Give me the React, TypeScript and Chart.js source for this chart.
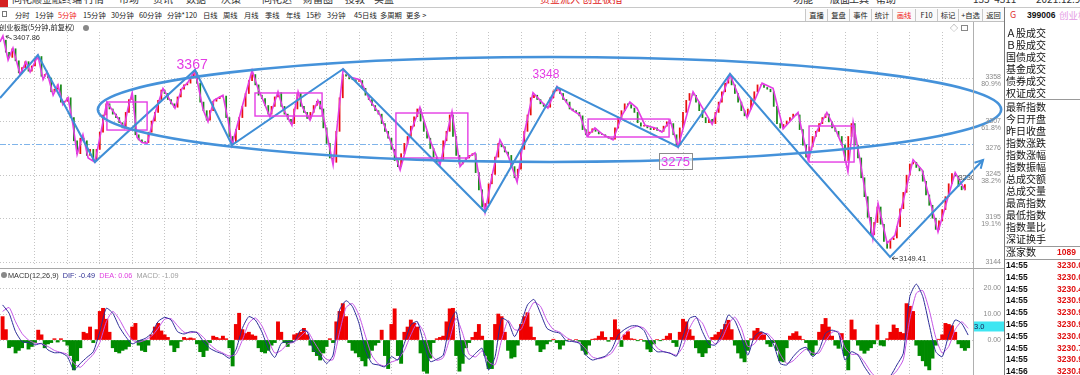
import React, { useEffect, useRef } from "react";
import { Chart, registerables } from "chart.js";

Chart.register(...registerables);

const UI_FONT = '"Noto Sans CJK SC", "Noto Sans", sans-serif';
const NUM_FONT = '"Liberation Sans", Arial, sans-serif';
const RED = "#f00000";
const GREEN = "#008a00";
const MAGENTA = "#e43ce4";
const BLUE = "#3f8ed6";
const GRID = "#c4c4c4";

// ================= DATA =================
// x unit: one aggregated bar; 10 units per trading day
const dayGridX = [10, 20, 30, 40, 50, 60, 70, 80, 90, 100, 110, 120, 130, 140, 150, 160, 170, 180, 190, 200, 210, 220, 230, 240, 250, 260, 270, 280, 290];

const priceAxisValues = [3358, 3307, 3276, 3245, 3195, 3144];
const priceAxisLabels = ["3358", "3307", "3276", "3245", "3195", "3144"];
const fibLabels = ["80.9%", "61.8%", "", "38.2%", "19.1%", ""];
const priceGridValues = [3358, 3307, 3245, 3195, 3144];
const refLinePrice = 3281;

const closes = [
  3402, 3388, 3382, 3392, 3378, 3364, 3370, 3377, 3366, 3372,
  3380, 3383, 3360, 3362, 3358, 3342, 3345, 3350, 3330, 3331,
  3335, 3312, 3285, 3270, 3288, 3285, 3268, 3275, 3262, 3275,
  3295, 3315, 3328, 3322, 3316, 3312, 3306, 3300, 3318, 3333,
  3338, 3292, 3286, 3284, 3283, 3295, 3308, 3318, 3332, 3344,
  3340, 3333, 3328, 3324, 3336, 3345, 3350, 3352, 3358, 3364,
  3352, 3330, 3320, 3309, 3320, 3331, 3334, 3336, 3337, 3312,
  3290, 3283, 3298, 3312, 3325, 3340, 3355, 3362, 3350, 3338,
  3334, 3326, 3316, 3325, 3336, 3341, 3325, 3316, 3310, 3305,
  3322, 3340, 3325, 3318, 3311, 3318, 3326, 3331, 3322, 3300,
  3282, 3265, 3260, 3296, 3335, 3362, 3360, 3357, 3356, 3354,
  3355, 3346, 3338, 3333, 3326, 3320, 3316, 3305, 3296, 3288,
  3275, 3262, 3255, 3270, 3282, 3290, 3302, 3313, 3322, 3308,
  3296, 3288, 3276, 3266, 3260, 3262, 3285, 3296, 3315, 3290,
  3268, 3258, 3262, 3265, 3268, 3270, 3248, 3228, 3208, 3212,
  3235, 3246, 3266, 3282, 3278, 3272, 3268, 3255, 3242, 3252,
  3275, 3296, 3315, 3335, 3338, 3333, 3328, 3325, 3324, 3335,
  3343, 3346, 3340, 3333, 3330, 3322, 3320, 3318, 3314, 3298,
  3292, 3295, 3299, 3296, 3293, 3292, 3290, 3288, 3287, 3300,
  3312, 3320, 3328, 3327, 3323, 3318, 3306, 3302, 3303, 3300,
  3298, 3300, 3297, 3296, 3302, 3307, 3305, 3292, 3280, 3300,
  3318, 3332, 3340, 3338, 3330, 3320, 3312, 3306, 3310, 3305,
  3318, 3330, 3342, 3352, 3360, 3350, 3340, 3330, 3320, 3314,
  3322, 3333, 3342, 3350, 3350, 3347, 3345, 3342, 3325, 3305,
  3300, 3304, 3308, 3312, 3316, 3315, 3298, 3280, 3266, 3278,
  3290, 3296, 3305, 3312, 3316, 3307, 3300, 3296, 3290, 3280,
  3262, 3290, 3305, 3280, 3265, 3242, 3220, 3196, 3176, 3190,
  3208, 3188, 3168, 3160, 3170, 3172, 3185, 3206, 3225, 3245,
  3258, 3260, 3254, 3250, 3238, 3222, 3210, 3195, 3182, 3192,
  3205, 3220, 3235, 3247, 3244, 3232, 3228, 3234,
];

// magenta hand-drawn zigzag
const zigX = [
  -0.8, 0.1, 1.7, 3.2, 5.4, 7.2, 8.5, 10.9, 12.5, 13.7, 15.6, 17.1, 18.6, 20.2, 21.7, 23.0, 24.8, 26.4, 28.5,
  32.2, 33.8, 35.3, 37.5, 38.7, 40.0, 41.5, 43.0, 44.6, 47.3, 49.5, 51.7, 53.2, 55.4, 57.2, 59.4, 61.9, 63.4,
  65.2, 68.0, 69.6, 70.8, 73.9, 77.0, 78.8, 80.4, 82.5, 85.0, 86.5, 89.3, 91.2, 92.7, 94.9, 97.3, 98.6, 102.0,
  105.1, 107.2, 110.3, 113.4, 116.5, 119.6, 122.7, 125.7, 128.8, 131.9, 135.0, 137.5, 138.7, 141.2, 143.3,
  145.8, 148.9, 151.1, 153.5, 156.0, 158.8, 161.2, 163.7, 165.9, 168.3, 171.1, 173.6, 175.7, 178.2, 180.4,
  182.8, 185.0, 188.4, 191.2, 193.6, 195.8, 198.3, 201.4, 203.5, 206.0, 208.5, 213.1, 219.0, 224.5, 229.8,
  234.4, 237.8, 240.9, 245.5, 248.6, 251.4, 254.4, 257.2, 259.1, 260.9, 262.5, 264.6, 268.6, 270.2, 273.0,
  275.4, 281.0, 283.8, 286.2, 288.7, 294.0, 297.0,
];
const zigY = [
  3400, 3407, 3379, 3393, 3362, 3377, 3365, 3384, 3356, 3365, 3338, 3350, 3327, 3335, 3304, 3269, 3292, 3265, 3260,
  3330, 3321, 3313, 3300, 3323, 3341, 3289, 3283, 3282, 3320, 3346, 3332, 3323, 3346, 3353, 3367, 3321, 3307,
  3332, 3338, 3309, 3280, 3324, 3367, 3346, 3332, 3313, 3342, 3323, 3303, 3342, 3323, 3309, 3332, 3321, 3257,
  3368, 3359, 3356, 3332, 3315, 3286, 3251, 3292, 3324, 3286, 3257, 3299, 3319, 3255, 3265,
  3271, 3202, 3245, 3286, 3268, 3237, 3297, 3341, 3332, 3323, 3348, 3332, 3321, 3315, 3290,
  3300, 3293, 3286, 3315, 3330, 3323, 3303, 3300, 3295, 3309, 3278, 3342, 3304, 3362, 3312,
  3352, 3346, 3299, 3318, 3263, 3297, 3318, 3297, 3280, 3249, 3307, 3263, 3171, 3212, 3166,
  3175, 3263, 3251, 3216, 3179, 3248, 3228,
];

// blue trend lines (last segment ends in an arrow)
const trendX = [-0.8, 10.9, 28.5, 59.4, 70.8, 105.1, 148.9, 171.1, 208.5, 224.5, 248.3, 273.9, 302.6];
const trendY = [3334.7, 3384.7, 3260.3, 3367.3, 3280.1, 3368.5, 3202.2, 3347.5, 3277.8, 3362.7, 3259.2, 3149.9, 3262.7];

// magenta consolidation boxes
const boxX0 = [32.2, 77.9, 121.4, 180.7, 248.9];
const boxX1 = [44.6, 98.6, 143.6, 205.7, 262.8];
const boxTop = [3330.1, 3340.6, 3317.3, 3310.3, 3302.2];
const boxBottom = [3297.5, 3313.8, 3265.0, 3289.4, 3260.3];

// big blue ellipse: centre (x, price) and radii (x units, price units)
const ellipseCenter = [168.8, 3321.4];
const ellipseRadius = [139.4, 61.0];

const peakTexts = ["3367", "3348"];
const peakTextX = [58.5, 167.7];
const peakTextY = [3373, 3361.5];
const peakTextSize = [14, 12];
const boxedText = "3275";
const boxedTextPos = [207.7, 3261.5];
const highMark = [0.1, 3407.86];
const lowMark = [273.9, 3149.41];
const lastPriceText = "3230.0";
const lastPricePos = [295, 3242];

// MACD histogram, one value per x unit
const macdHist = [
  9, 4, -3, -2.5, -5, -4, -3, -1, -3.5, -2.5,
  -1, 3.8, 2, -3, -1.5, -1, 0.5, -0.8, 0.5, -0.5,
  -2, -6, -11.5, -8, -3, 3, 2.5, 5, -1, 4,
  11, 12.2, 8, 3, -3, -4.5, -5, -4, -3.5, -2.5,
  5, 6.4, -2, -4, -4.5, -2, 2, 5, 6.4, 3.5,
  2, 1, -2, -4.5, -3, -0.5, 1, 0.5, 0.8, 0.5,
  -1.5, -4.5, -6.4, -4, -1, 1.5, 1, 0.5, 1.5, 0.5,
  -3, -10, 6, 10.3, 4, 2.5, 3, 2, 1.5, -3,
  -4.5, -5, -4, -2, -1, 7, 3, -1, -2.5, -1,
  2, 2.5, 3, 4.5, 2, -2, -4.5, -6, -7.7, -5,
  -2.5, 0.5, -1, 7, 11, 14, 9, -1, -4, -5,
  -6.5, -8, -10, -7, -4, -2, -1, 3.8, -6, -11,
  6, 12, -6, -9, 3, 5, 7.7, 6.5, 5, -5,
  -12, -12.8, -7, -1, 0.5, 1, 1.5, 7, 12, 12.2,
  -6, -12, -9, -3, -1, 1, 3, 6, 1.5, -6,
  -11, -11, 6, 10, 9, 3, -4, -7, -6.5, -2,
  6, 9, 10.5, 5, 1, -2, -4.5, -3.5, -1.5, -0.5,
  0.3, -1, -3.5, -2, -0.3, 0.2, -0.3, 0.2, -0.5, -4,
  -5.5, -2, 0.3, 0.5, 1.5, 3.2, 1, -0.5, 1, 7.8,
  4, -2.5, 2, 3.2, 0.5, 0.3, -0.3, 0.2, -0.5, -3.5,
  -4.5, -1.5, 0.2, -0.3, 0.3, 1.5, 2.5, -1, -2.5, 3,
  8, 7, 4, 1.5, -3, -5, -6.4, -5, -3, 1,
  2, 3, 4, 6, 7.6, 4, -2, -5, -7, -8.4,
  -4, 0.5, 3.5, 4.5, 3, 2, -1.5, -2.5, -1, -4,
  -8, -8.4, -3, 1.5, 2.5, 3.2, 1.5, 0.2, -1, -4,
  -5.8, -2, 3, 6, 8.3, 5, 1.5, -2, -3.2, 2.5,
  -6, -11.5, 7.7, 4, -2, -4, -5.1, -4, -3, -1.5,
  5.8, -2, -2.3, 0.5, 3, 5.8, 4.5, 3, 2.5, 14,
  13, 11, -2, -6, -8, -10, -11.5, -7, -2, 0.3,
  2, 6.4, 6, 5.5, 3, -1.5, -3, -4, -3,
];

// DIF / DEA sampled every 2 x units
const macdLineStep = 2;
const difVals = [
  13.5, 10.3, 3.2, -0.6, -1, -1.9, -1.3, -3.8, -4.9, -4.9,
  -6.4, -11.5, -9, -6.7, -4.5, 3.2, 12.2, 10.3, 5.1, 1.3,
  -1.5, -0.3, 0.6, 2.6, 7.1, 8.7, 7.7, 3.2, 2.3, 3.2,
  2.8, -0.6, -3.2, -4.5, -5.4, -7, -3.8, 4.5, 9, 7.7,
  3.2, -3.2, -6.7, -1.3, -0.6, -0.6, 3.8, 3.2, -3.8, -5.8,
  -9, -5.8, 11.5, 15.1, 12.8, 6.4, -3.8, -9, -9.6, -10.3,
  -6.4, -7.7, -1.3, 5.8, 7.1, -1.3, -8.3, -7.4, -5.8, 6.4,
  10.9, -4.5, -7.4, -5.1, -3.2, -11.5, -6.4, 8.3, 7.1, 1.3,
  6.4, 13.5, 15.6, 10.3, 4.5, 3.2, 2.6, -0.3, -0.6, -1.3,
  -5.8, -7.7, -7, -6.2, -3.6, 1.9, 4.1, 5.4, 5.4, 3.6,
  -1.9, -4.5, -4.5, -5.1, -6.2, 1.3, 8.3, 9, 3.2, -1.5,
  -1.9, 2.6, 9.6, 7.4, 1.3, -5.8, 1.3, 3.2, 1.9, -1.9,
  -9, -9.6, -6.4, -3.8, -2.8, -6.4, -3.8, 2.6, 3.8, 2.6,
  -7.7, -4.5, -5.8, -10.3, -13.8, -15.4, -14.7, -13.8, -9.6, -5.1,
  16.7, 21.5, 16.7, 5.8, -4.5, -6.4, 1.9, 7.7, 6.4, 1.9,
];
const deaVals = [
  11, 12.5, 7, 2.5, 0, -1.2, -1.5, -2.5, -4, -4.8,
  -5.5, -9, -10.5, -8, -5.5, -1, 7, 11, 8, 3.5,
  0, -0.8, 0, 1.5, 4.5, 8, 8.2, 5.5, 3, 2.8,
  3, 1, -1.8, -3.8, -5, -6.2, -5.5, 0, 6.5, 8.5,
  5.5, 0, -5, -4, -1.5, -0.8, 1.5, 3.5, -0.5, -4.5,
  -7.5, -7.5, 3, 12.5, 14, 9.5, 1.5, -6, -9.2, -10,
  -8.5, -7.5, -4, 2, 6.5, 3, -5, -7.8, -6.8, 0.5,
  8.5, 2.5, -5.5, -6.5, -4.2, -8.5, -9.5, 0, 7.5, 4,
  4, 10, 14.5, 13, 7.5, 4, 3, 1, -0.3, -1,
  -3.5, -6.5, -7.2, -6.5, -5, -1, 2.5, 4.5, 5.3, 4.5,
  1, -3, -4.5, -5, -5.8, -2.5, 4.5, 8.5, 6.5, 1,
  -1.5, 0.5, 6, 8.8, 4.5, -2.5, -1.5, 2, 2.5, 0,
  -5.5, -9, -8, -5.5, -3.5, -5, -5, -0.5, 3, 3.2,
  -3, -5.5, -5.5, -8.5, -12.3, -14.8, -15, -14.2, -11.8, -7.5,
  8, 18, 19, 11.5, 1, -5, -2.5, 4, 7, 4.5,
];
const macdGridValues = [20, 10, 0];
const macdAxisLabels = ["20.00", "10.00", "0.00"];
const macdMarkerValue = 5.2;
const macdMarkerLabel = "3.0";

// UI text
const periodLabels = ["分时", "1分钟", "5分钟", "15分钟", "30分钟", "60分钟", "分钟*120", "日线", "周线", "月线", "季线", "年线", "15秒", "3分钟", "45日线", "多周期", "更多 >"];
const toolButtons = ["直播", "复盘", "事件", "统计", "画线", "F10", "标记", "+自选", "返回"];
const menuLabels = ["同花顺金融终端", "行情", "市场", "资讯", "数据", "决策", "同花达", "财富圈", "投教", "实盘"];
const menuRight = ["功能", "版面", "工具", "帮助"];
const panelGroup1 = ["Ａ股成交", "Ｂ股成交", "国债成交", "基金成交", "债券成交", "权证成交"];
const panelGroup2 = ["最新指数", "今日开盘", "昨日收盘", "指数涨跌", "指数涨幅", "指数振幅", "总成交额", "总成交量", "最高指数", "最低指数", "指数量比", "深证换手"];
const tickTimes = ["14:55", "14:55", "14:55", "14:55", "14:55", "14:55", "14:55", "14:55", "14:55", "14:56"];
const tickPrices = ["3230.05", "3230.05", "3230.46", "3230.96", "3230.91", "3230.93", "3230.05", "3230.73", "3230.96", "3230.86"];

// layout (pixels) for the HTML parts
const periodLeft = [15, 35, 58, 83, 111, 139, 167, 203, 223, 244, 265, 286, 306, 327, 354, 380, 406];
const buttonEdges = [805, 827, 849, 871, 892, 915, 937, 958, 982, 1004];
const menuLeft = [12, 84, 119, 153, 186, 221, 262, 303, 345, 374];
const menuRightLeft = [793, 830, 849, 876];

const X_MIN = -0.8;
const X_MAX = 299.5;

// ================= PLUGINS =================
function rightLabels(values: number[], labels: string[], subs: string[] | null) {
  return {
    id: "rightLabels",
    afterDraw(chart: any) {
      const { ctx } = chart;
      const ys = chart.scales.y;
      ctx.save();
      ctx.font = `7px ${NUM_FONT}`;
      ctx.fillStyle = "#8a8a8a";
      ctx.textAlign = "right";
      ctx.textBaseline = "middle";
      const xr = chart.width - 3;
      values.forEach((v, i) => {
        const y = ys.getPixelForValue(v);
        const sub = subs ? subs[i] : "";
        ctx.fillText(labels[i], xr, sub ? y - 1 : y);
        if (sub) ctx.fillText(sub, xr, y + 6);
      });
      ctx.restore();
    },
  };
}

const mainOverlay = {
  id: "mainOverlay",
  beforeDatasetsDraw(chart: any) {
    const { ctx, chartArea: ca } = chart;
    const y = Math.round(chart.scales.y.getPixelForValue(refLinePrice)) + 0.5;
    ctx.save();
    ctx.strokeStyle = "#7fb4ea";
    ctx.lineWidth = 1;
    ctx.setLineDash([6, 2, 2, 2]);
    ctx.beginPath();
    ctx.moveTo(ca.left, y);
    ctx.lineTo(ca.right, y);
    ctx.stroke();
    ctx.restore();
  },
  afterDatasetsDraw(chart: any) {
    const { ctx, chartArea: ca } = chart;
    const xs = chart.scales.x;
    const ys = chart.scales.y;
    const px = (v: number) => xs.getPixelForValue(v);
    const py = (v: number) => ys.getPixelForValue(v);
    ctx.save();
    // boxes
    ctx.strokeStyle = MAGENTA;
    ctx.lineWidth = 1.4;
    boxX0.forEach((x0, i) => {
      const l = px(x0), r = px(boxX1[i]), t = py(boxTop[i]), b = py(boxBottom[i]);
      ctx.strokeRect(l, t, r - l, b - t);
    });
    // arrow head on last trend segment
    const n = trendX.length;
    const ax = px(trendX[n - 1]), ay = py(trendY[n - 1]);
    const bx = px(trendX[n - 2]), by = py(trendY[n - 2]);
    const ang = Math.atan2(ay - by, ax - bx);
    ctx.strokeStyle = BLUE;
    ctx.lineWidth = 2;
    ctx.beginPath();
    ctx.moveTo(ax - 9 * Math.cos(ang - 0.5), ay - 9 * Math.sin(ang - 0.5));
    ctx.lineTo(ax, ay);
    ctx.lineTo(ax - 9 * Math.cos(ang + 0.5), ay - 9 * Math.sin(ang + 0.5));
    ctx.stroke();
    // ellipse
    const cx = px(ellipseCenter[0]);
    const cy = py(ellipseCenter[1]);
    const rx = Math.abs(px(ellipseCenter[0] + ellipseRadius[0]) - cx);
    const ry = Math.abs(py(ellipseCenter[1] + ellipseRadius[1]) - cy);
    ctx.strokeStyle = "#4592da";
    ctx.lineWidth = 2.6;
    ctx.beginPath();
    ctx.ellipse(cx, cy, rx, ry, 0, 0, Math.PI * 2);
    ctx.stroke();
    // peak labels
    ctx.fillStyle = MAGENTA;
    ctx.textAlign = "center";
    ctx.textBaseline = "middle";
    peakTexts.forEach((t, i) => {
      ctx.font = `${peakTextSize[i]}px ${NUM_FONT}`;
      ctx.fillText(t, px(peakTextX[i]), py(peakTextY[i]));
    });
    // boxed label
    const bxp = px(boxedTextPos[0]), byp = py(boxedTextPos[1]);
    ctx.font = `13px ${NUM_FONT}`;
    const w = ctx.measureText(boxedText).width + 4;
    ctx.fillStyle = "rgba(255,255,255,0.6)";
    ctx.fillRect(bxp - w / 2, byp - 8, w, 16);
    ctx.strokeStyle = "#8c8c8c";
    ctx.lineWidth = 1;
    ctx.strokeRect(Math.round(bxp - w / 2) + 0.5, Math.round(byp - 8) + 0.5, Math.round(w), 16);
    ctx.fillStyle = MAGENTA;
    ctx.fillText(boxedText, bxp, byp + 1);
    // high / low marks
    ctx.font = `7.5px ${NUM_FONT}`;
    ctx.fillStyle = "#333";
    ctx.strokeStyle = "#333";
    ctx.lineWidth = 0.8;
    ctx.textAlign = "left";
    const hx = px(highMark[0]), hy = py(highMark[1]);
    ctx.beginPath();
    ctx.moveTo(hx + 9, hy + 4);
    ctx.lineTo(hx + 3, hy + 1);
    ctx.moveTo(hx + 3, hy + 1);
    ctx.lineTo(hx + 6, hy + 0.5);
    ctx.moveTo(hx + 3, hy + 1);
    ctx.lineTo(hx + 4.5, hy + 3.5);
    ctx.stroke();
    ctx.fillText(highMark[1].toFixed(2), hx + 10, hy + 3);
    const lx = px(lowMark[0]), ly = py(lowMark[1]);
    ctx.beginPath();
    ctx.moveTo(lx + 2, ly + 1);
    ctx.lineTo(lx + 8, ly + 1);
    ctx.moveTo(lx + 2, ly + 1);
    ctx.lineTo(lx + 4.5, ly - 1);
    ctx.moveTo(lx + 2, ly + 1);
    ctx.lineTo(lx + 4.5, ly + 3);
    ctx.stroke();
    ctx.fillText(lowMark[1].toFixed(2), lx + 9, ly + 1.5);
    // last price tag, clipped by the plot edge
    ctx.save();
    ctx.beginPath();
    ctx.rect(ca.left, ca.top, ca.right - ca.left, ca.bottom - ca.top);
    ctx.clip();
    ctx.fillStyle = "#555";
    ctx.fillText(lastPriceText, px(lastPricePos[0]), py(lastPricePos[1]));
    ctx.restore();
    ctx.restore();
  },
};

const macdOverlay = {
  id: "macdOverlay",
  afterDraw(chart: any) {
    const { ctx, chartArea: ca } = chart;
    const y = chart.scales.y.getPixelForValue(macdMarkerValue);
    ctx.save();
    ctx.fillStyle = "#3ee6f2";
    ctx.fillRect(ca.right, y - 5, chart.width - ca.right, 10);
    ctx.fillStyle = "#1a1a50";
    ctx.font = `7.5px ${NUM_FONT}`;
    ctx.textAlign = "left";
    ctx.textBaseline = "middle";
    ctx.fillText(macdMarkerLabel, ca.right + 1, y + 0.5);
    ctx.restore();
  },
};

function xScale() {
  return {
    type: "linear",
    min: X_MIN,
    max: X_MAX,
    offset: false,
    ticks: { display: false },
    grid: { color: GRID, drawTicks: false, offset: false, lineWidth: 1 },
    border: { display: false, dash: [1, 2] },
    afterBuildTicks: (s: any) => {
      s.ticks = dayGridX.map((v) => ({ value: v }));
    },
  };
}

// ================= CHARTS =================
function MainChart() {
  const ref = useRef<HTMLCanvasElement>(null);
  useEffect(() => {
    const candleData = closes.slice(1).map((c, i) => ({ x: i + 1, y: [closes[i], c] }));
    const candleColors = closes.slice(1).map((c, i) => (c >= closes[i] ? "#e81010" : "#1a8a1a"));
    const zig = zigX.map((x, i) => ({ x, y: zigY[i] }));
    const trend = trendX.map((x, i) => ({ x, y: trendY[i] }));
    const chart = new Chart(ref.current as HTMLCanvasElement, {
      type: "bar",
      data: {
        datasets: [
          { type: "bar", data: candleData as any, backgroundColor: candleColors, barThickness: 1.1, order: 3, grouped: false } as any,
          { type: "line", data: zig, borderColor: MAGENTA, borderWidth: 1.6, pointRadius: 0, tension: 0, order: 2 } as any,
          { type: "line", data: trend, borderColor: BLUE, borderWidth: 2, pointRadius: 0, tension: 0, order: 1, clip: false } as any,
        ],
      },
      options: {
        responsive: false,
        maintainAspectRatio: false,
        animation: false,
        layout: { padding: { left: 0, right: 31, top: 0, bottom: 0 } },
        plugins: { legend: { display: false }, tooltip: { enabled: false } },
        scales: {
          x: xScale() as any,
          y: {
            type: "linear",
            position: "right",
            min: 3139.4,
            max: 3411.5,
            beginAtZero: false,
            ticks: { display: false },
            grid: { color: GRID, drawTicks: false },
            border: { display: false, dash: [1, 2] },
            afterBuildTicks: (s: any) => {
              s.ticks = priceGridValues.map((v) => ({ value: v }));
            },
          } as any,
        },
      },
      plugins: [mainOverlay, rightLabels(priceAxisValues, priceAxisLabels, fibLabels)],
    });
    return () => chart.destroy();
  }, []);
  return <canvas ref={ref} width={1004} height={234} style={{ position: "absolute", left: 0, top: 32, width: 1004, height: 234 }} />;
}

function MacdChart() {
  const ref = useRef<HTMLCanvasElement>(null);
  useEffect(() => {
    const hist = macdHist.map((v, i) => ({ x: i, y: v }));
    const histColors = macdHist.map((v) => (v >= 0 ? RED : GREEN));
    const dif = difVals.map((v, i) => ({ x: i * macdLineStep, y: v }));
    const dea = deaVals.map((v, i) => ({ x: i * macdLineStep, y: v }));
    const chart = new Chart(ref.current as HTMLCanvasElement, {
      type: "bar",
      data: {
        datasets: [
          { type: "bar", data: hist as any, backgroundColor: histColors, barPercentage: 1, categoryPercentage: 1, order: 3, grouped: false } as any,
          { type: "line", data: dea, borderColor: "#c455e6", borderWidth: 1, pointRadius: 0, tension: 0.2, order: 2 } as any,
          { type: "line", data: dif, borderColor: "#2c2c98", borderWidth: 1, pointRadius: 0, tension: 0.2, order: 1 } as any,
        ],
      },
      options: {
        responsive: false,
        maintainAspectRatio: false,
        animation: false,
        layout: { padding: { left: 0, right: 31, top: 0, bottom: 0 } },
        plugins: { legend: { display: false }, tooltip: { enabled: false } },
        scales: {
          x: xScale() as any,
          y: {
            type: "linear",
            position: "right",
            min: -13.46,
            max: 23.08,
            beginAtZero: false,
            ticks: { display: false },
            grid: { color: GRID, drawTicks: false },
            border: { display: false, dash: [1, 2] },
            afterBuildTicks: (s: any) => {
              s.ticks = macdGridValues.map((v) => ({ value: v }));
            },
          } as any,
        },
      },
      plugins: [macdOverlay, rightLabels(macdGridValues, macdAxisLabels, null)],
    });
    return () => chart.destroy();
  }, []);
  return <canvas ref={ref} width={1004} height={95} style={{ position: "absolute", left: 0, top: 280, width: 1004, height: 95 }} />;
}

// ================= UI =================
const abs = (s: React.CSSProperties): React.CSSProperties => ({ position: "absolute", whiteSpace: "nowrap", ...s });

function TopBars() {
  return (
    <>
      <div style={abs({ left: 0, top: 0, width: 8, height: 7, background: "#d42020" })} />
      {menuLabels.map((t, i) => (
        <div key={t} style={abs({ left: menuLeft[i], top: -8, fontSize: 10, lineHeight: "14px", color: "#333" })}>{t}</div>
      ))}
      <div style={abs({ left: 540, top: -8, fontSize: 10, lineHeight: "14px", color: "#e02020" })}>资金流入 创业板指</div>
      {menuRight.map((t, i) => (
        <div key={t} style={abs({ left: menuRightLeft[i], top: -8, fontSize: 10, lineHeight: "14px", color: "#333" })}>{t}</div>
      ))}
      <div style={abs({ left: 973, top: -8, fontSize: 10, lineHeight: "14px", color: "#333" })}>135&nbsp;&nbsp;4311</div>
      <div style={abs({ left: 1036, top: -8, fontSize: 10, lineHeight: "14px", color: "#333" })}>2021.12.9 周四</div>
      {/* toolbar */}
      <div style={abs({ left: 0, top: 7, width: 1080, height: 1, background: "#c8c8c8" })} />
      <div style={abs({ left: 0, top: 21, width: 1004, height: 1, background: "#c0c0c0" })} />
      <div style={abs({ left: 2, top: 11, width: 5, height: 6, border: "1px solid #777", boxSizing: "border-box" })} />
      {periodLabels.map((t, i) => (
        <div key={t} style={abs({ left: periodLeft[i], top: 8, fontSize: 7.3, lineHeight: "14px", color: i === 2 ? "#f02020" : "#222" })}>{t}</div>
      ))}
      {toolButtons.map((t, i) => (
        <div
          key={t}
          style={abs({
            left: buttonEdges[i],
            top: 9,
            width: buttonEdges[i + 1] - buttonEdges[i],
            height: 12,
            borderLeft: "1px solid #c8c8c8",
            boxSizing: "border-box",
            fontSize: 7.3,
            lineHeight: "12px",
            textAlign: "center",
            color: t === "画线" ? "#f02020" : "#222",
            background: "#fafafa",
          })}
        >
          {t}
        </div>
      ))}
      <div style={abs({ left: 1010, top: 8, fontSize: 9, lineHeight: "14px", color: "#e03030" })}>G</div>
      <div style={abs({ left: 1027, top: 8, fontSize: 8.5, lineHeight: "14px", color: "#111", fontWeight: 700, fontFamily: NUM_FONT })}>399006</div>
      <div style={abs({ left: 1059, top: 8, fontSize: 9.5, lineHeight: "14px", color: "#e49ae4" })}>创业板指</div>
      {/* chart title */}
      <div style={abs({ left: -1, top: 22, fontSize: 7.2, lineHeight: "11px", color: "#222" })}>创业板指(5分钟,前复权)</div>
      <div style={abs({ left: 83, top: 24.5, width: 6, height: 6, borderRadius: 3, background: "#888" })} />
      <div style={abs({ left: 950, top: 22, fontSize: 8, lineHeight: "11px", color: "#777" })}>◇</div>
      <div style={abs({ left: 961, top: 24.5, width: 7, height: 6, border: "1px solid #888", boxSizing: "border-box" })} />
    </>
  );
}

function Frames() {
  return (
    <>
      <div style={abs({ left: 973, top: 22, width: 1, height: 353, background: "#b0b0b0" })} />
      <div style={abs({ left: 1004, top: 7, width: 1, height: 368, background: "#7a7a7a" })} />
      <div style={abs({ left: 0, top: 268, width: 1004, height: 1, background: "#a8a8a8" })} />
      {/* MACD title */}
      <div style={abs({ left: 1, top: 272, width: 6, height: 6, borderRadius: 3, background: "#888" })} />
      <div style={abs({ left: 8, top: 270, fontSize: 7.3, lineHeight: "11px", fontFamily: NUM_FONT })}>
        <span style={{ color: "#333" }}>MACD(12,26,9)</span>
        <span style={{ color: "#303094", marginLeft: 4 }}>DIF: -0.49</span>
        <span style={{ color: "#e040e0", marginLeft: 4 }}>DEA: 0.06</span>
        <span style={{ color: "#a0a0a0", marginLeft: 4 }}>MACD: -1.09</span>
      </div>
    </>
  );
}

function RightPanel() {
  const row = (t: string, top: number, extra: React.CSSProperties = {}) => (
    <div key={t + top} style={abs({ left: 1006, top, fontSize: 10, lineHeight: "12px", color: "#111", ...extra })}>{t}</div>
  );
  return (
    <>
      {panelGroup1.map((t, i) => row(t, 27 + i * 12))}
      <div style={abs({ left: 1005, top: 99, width: 75, height: 1, background: "#999" })} />
      {panelGroup2.map((t, i) => row(t, 101 + i * 12))}
      <div style={abs({ left: 1005, top: 246, width: 75, height: 1, background: "#999" })} />
      {row("涨家数", 246)}
      <div style={abs({ left: 1057, top: 246, fontSize: 8.5, lineHeight: "12px", color: "#e01010", fontWeight: 700, fontFamily: NUM_FONT })}>1089</div>
      <div style={abs({ left: 1005, top: 259, width: 75, height: 1, background: "#999" })} />
      {tickTimes.map((t, i) => (
        <div key={"t" + i} style={abs({ left: 1006, top: 259 + i * 11.8, fontSize: 8.5, lineHeight: "12px", color: "#111", fontWeight: 700, fontFamily: NUM_FONT })}>{t}</div>
      ))}
      {tickPrices.map((t, i) => (
        <div key={"p" + i} style={abs({ left: 1057, top: 259 + i * 11.8, fontSize: 8.5, lineHeight: "12px", color: "#e01010", fontWeight: 700, fontFamily: NUM_FONT })}>{t}</div>
      ))}
    </>
  );
}

export default function App() {
  return (
    <div style={{ position: "absolute", left: 0, top: 0, width: 1080, height: 375, overflow: "hidden", background: "#fff", fontFamily: UI_FONT }}>
      <MainChart />
      <MacdChart />
      <TopBars />
      <Frames />
      <RightPanel />
    </div>
  );
}
